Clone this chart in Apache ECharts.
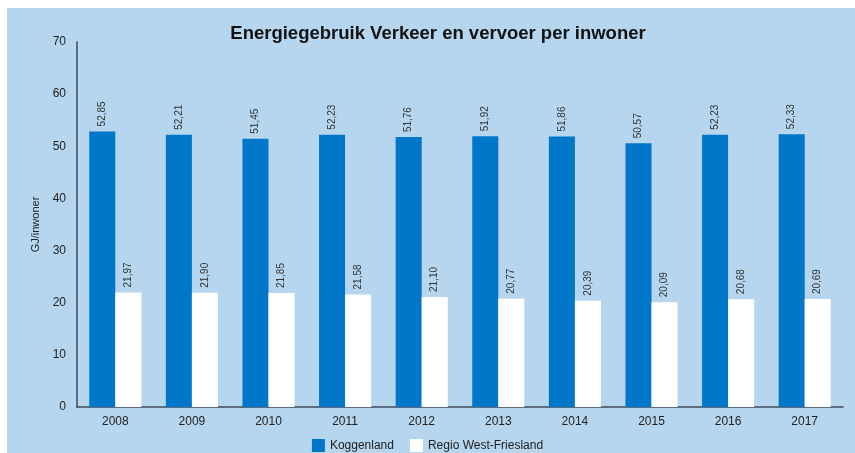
<!DOCTYPE html>
<html>
<head>
<meta charset="utf-8">
<script src="https://cdn.jsdelivr.net/npm/echarts@6/dist/echarts.min.js"></script>
<style>
html,body{margin:0;padding:0;background:#ffffff;}
#bg{position:absolute;left:7px;top:8px;width:848px;height:445px;background:#b5d6ee;}
#chart{position:absolute;left:0;top:0;width:855px;height:453px;}
</style>
</head>
<body>
<div id="bg"></div>
<div id="chart"></div>
<script>
const categories = ['2008','2009','2010','2011','2012','2013','2014','2015','2016','2017'];
const koggenland = [52.85,52.21,51.45,52.23,51.76,51.92,51.86,50.57,52.23,52.33];
const westFriesland = [21.97,21.90,21.85,21.58,21.10,20.77,20.39,20.09,20.68,20.69];
const yTicks = [0,10,20,30,40,50,60,70];

const chart = echarts.init(document.getElementById('chart'));
const fmt = p => p.value.toFixed(2).replace('.', ',');
const labelCfg = {
  show: true, position: 'top', rotate: 90, distance: 5,
  align: 'left', verticalAlign: 'middle',
  fontFamily: 'Liberation Sans, Arial, sans-serif', fontSize: 10, color: '#333333',
  formatter: fmt
};
chart.setOption({
  backgroundColor: 'transparent',
  animation: false,
  title: {
    text: 'Energiegebruik Verkeer en vervoer per inwoner',
    left: 433, top: 19, textAlign: 'center',
    textStyle: {fontFamily: 'Liberation Sans, Arial, sans-serif', fontSize: 18.5, fontWeight: 'bold', color: '#111111'}
  },
  legend: {
    top: 434, left: 'center', itemWidth: 13, itemHeight: 13, itemGap: 16,
    textStyle: {fontFamily: 'Liberation Sans, Arial, sans-serif', fontSize: 12, color: '#222222'},
    data: ['Koggenland','Regio West-Friesland'],
    icon: 'rect'
  },
  grid: {left: 77, right: 12, top: 42, bottom: 46, containLabel: false},
  xAxis: {
    type: 'category', data: categories,
    axisLine: {lineStyle: {color: '#3c4a5a', width: 1.5}},
    axisTick: {show: false},
    axisLabel: {fontFamily: 'Liberation Sans, Arial, sans-serif', fontSize: 12, color: '#222222', margin: 9}
  },
  yAxis: {
    type: 'value', min: yTicks[0], max: yTicks[yTicks.length-1], interval: 10,
    name: 'GJ/inwoner', nameLocation: 'middle', nameGap: 33, nameRotate: 90,
    nameTextStyle: {fontFamily: 'Liberation Sans, Arial, sans-serif', fontSize: 11, color: '#222222'},
    axisLine: {show: true, lineStyle: {color: '#3c4a5a', width: 1.5}},
    axisTick: {show: false},
    splitLine: {show: false},
    axisLabel: {fontFamily: 'Liberation Sans, Arial, sans-serif', fontSize: 12, color: '#222222', margin: 11}
  },
  series: [
    {name: 'Koggenland', type: 'bar', data: koggenland, barGap: '0%', barCategoryGap: '32%',
     itemStyle: {color: '#0077c8'}, label: labelCfg},
    {name: 'Regio West-Friesland', type: 'bar', data: westFriesland, barGap: '0%', barCategoryGap: '32%',
     itemStyle: {color: '#ffffff'}, label: labelCfg}
  ]
});
</script>
</body>
</html>
